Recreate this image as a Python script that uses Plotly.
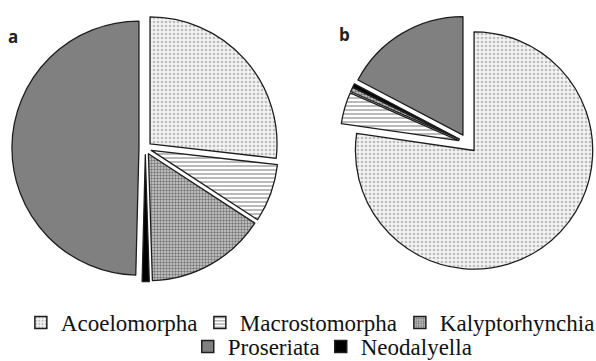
import plotly.graph_objects as go

# Taxon composition for the two samples (percent of specimens)
taxa = ["Acoelomorpha", "Macrostomorpha", "Kalyptorhynchia", "Neodalyella", "Proseriata"]
share_a = [26.8, 7.4, 15.3, 0.9, 49.6]
share_b = [77.3, 4.3, 0.6, 0.5, 17.3]

# Legend rows (order in which the taxa are listed underneath)
legend_row1 = ["Acoelomorpha", "Macrostomorpha", "Kalyptorhynchia"]
legend_row2 = ["Proseriata", "Neodalyella"]

# Fill styles per taxon: (bgcolor, fgcolor, pattern shape, size, solidity)
fills = {
    "Acoelomorpha": dict(bgcolor="#f3f3f3", fgcolor="#bdbdbd", shape=".", size=4, solidity=0.35),
    "Macrostomorpha": dict(bgcolor="#ffffff", fgcolor="#a8a8a8", shape="-", size=4, solidity=0.4),
    "Kalyptorhynchia": dict(bgcolor="#d0d0d0", fgcolor="#777777", shape=".", size=3, solidity=0.5),
    "Proseriata": dict(bgcolor="#808080", fgcolor="#808080", shape="", size=4, solidity=0.3),
    "Neodalyella": dict(bgcolor="#000000", fgcolor="#000000", shape="", size=4, solidity=0.3),
}

# Horizontal room given to each legend entry (px)
entry_width = {"Acoelomorpha": 134, "Macrostomorpha": 155, "Kalyptorhynchia": 150,
               "Proseriata": 88, "Neodalyella": 110}


def pattern_for(name):
    f = fills[name]
    return dict(shape=f["shape"], bgcolor=f["bgcolor"], fgcolor=f["fgcolor"],
                size=f["size"], solidity=f["solidity"], fillmode="replace")


def fill_color(name):
    return fills[name]["bgcolor"]


def slice_marker(names):
    return dict(
        colors=[fill_color(t) for t in names],
        pattern=dict(shape=[fills[t]["shape"] for t in names],
                     bgcolor=[fills[t]["bgcolor"] for t in names],
                     fgcolor=[fills[t]["fgcolor"] for t in names],
                     size=[fills[t]["size"] for t in names],
                     solidity=[fills[t]["solidity"] for t in names],
                     fillmode="replace"),
        line=dict(color="#1e1e1e", width=1.3),
    )


fig = go.Figure()

fig.add_trace(go.Pie(
    labels=taxa, values=share_a, sort=False, direction="clockwise", rotation=0,
    pull=[0.05] * len(taxa), textinfo="none", hoverinfo="label+percent",
    marker=slice_marker(taxa),
    domain=dict(x=[0.02005, 0.46753], y=[0.20, 0.979]),
    showlegend=False,
))

fig.add_trace(go.Pie(
    labels=taxa, values=share_b, sort=False, direction="clockwise", rotation=0,
    pull=[0.08] * len(taxa), textinfo="none", hoverinfo="label+percent",
    marker=slice_marker(taxa),
    domain=dict(x=[0.57, 1.0], y=[0.22, 0.986]),
    showlegend=False,
))

# Legend entries: empty bar traces carrying each taxon's fill
for row, legend_id in ((legend_row1, "legend"), (legend_row2, "legend2")):
    for name in row:
        fig.add_trace(go.Bar(
            x=[None], y=[None], name=name, legend=legend_id, showlegend=True,
            legendwidth=entry_width[name],
            marker=dict(color=fill_color(name), pattern=pattern_for(name),
                        line=dict(color="#1e1e1e", width=1.5)),
            hoverinfo="skip",
        ))

legend_font = dict(family="Liberation Serif", size=23, color="#111111")

fig.update_layout(
    width=596, height=361,
    margin=dict(l=0, r=0, t=0, b=0, autoexpand=False),
    font=dict(family="Liberation Serif", size=23, color="#111111"),
    paper_bgcolor="white", plot_bgcolor="white",
    xaxis=dict(visible=False), yaxis=dict(visible=False),
    legend=dict(orientation="h", x=0.035, xanchor="left", y=1 - 301 / 361, yanchor="top",
                font=legend_font, bgcolor="rgba(0,0,0,0)", itemclick=False,
                itemdoubleclick=False, tracegroupgap=0),
    legend2=dict(orientation="h", x=0.315, xanchor="left", y=1 - 325 / 361, yanchor="top",
                 font=legend_font, bgcolor="rgba(0,0,0,0)", itemclick=False,
                 itemdoubleclick=False, tracegroupgap=0),
    annotations=[
        dict(text="<b>a</b>", x=13 / 596, y=1 - 36 / 361, xref="paper", yref="paper",
             showarrow=False, xanchor="center", yanchor="middle",
             font=dict(family="Open Sans", size=17, color="#222222")),
        dict(text="<b>b</b>", x=344 / 596, y=1 - 35 / 361, xref="paper", yref="paper",
             showarrow=False, xanchor="center", yanchor="middle",
             font=dict(family="Open Sans", size=17, color="#222222")),
    ],
)

fig.write_html("out.html")
